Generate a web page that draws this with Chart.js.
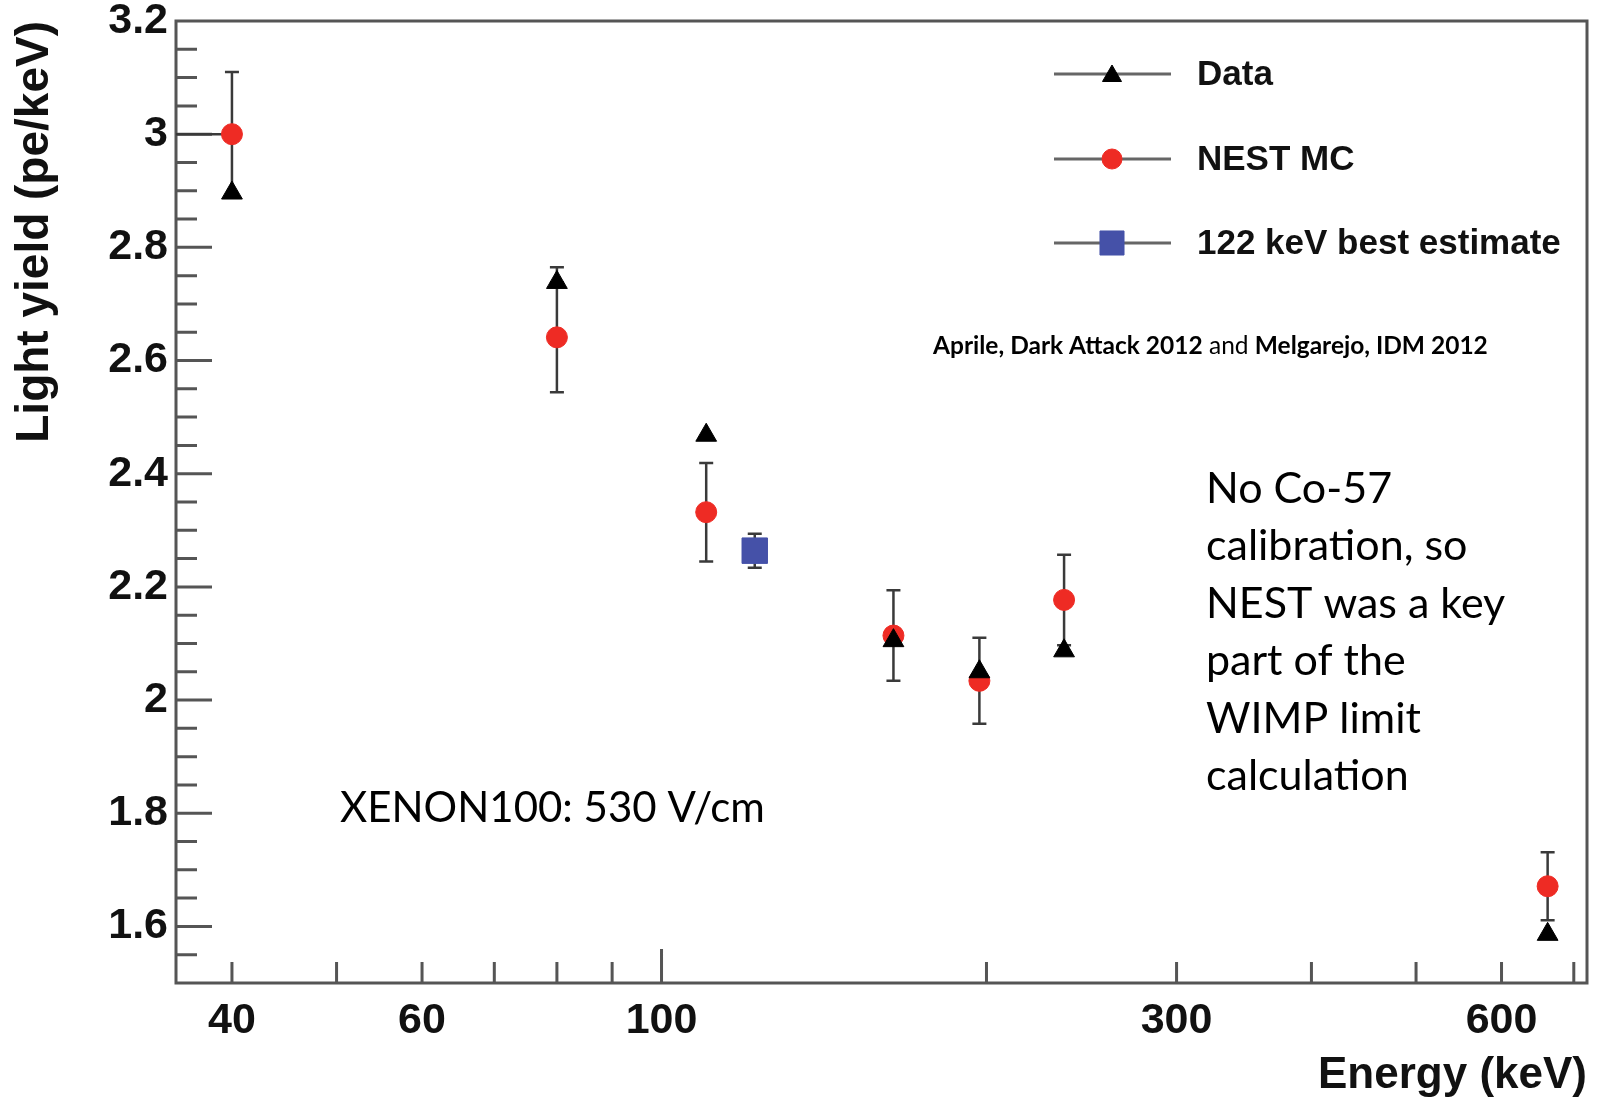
<!DOCTYPE html>
<html><head><meta charset="utf-8">
<script src="https://cdn.jsdelivr.net/npm/chart.js@4.4.0/dist/chart.umd.min.js"></script>
<style>html,body{margin:0;padding:0;background:#fff;overflow:hidden}</style>
</head><body>
<canvas id="c" width="1597" height="1102"></canvas>
<script>
// ---- data ----
const energies     = [40, 80, 110, 164, 197, 236, 662];
const dataYield    = [2.896, 2.738, 2.468, 2.105, 2.05, 2.087, 1.586];
const dataErrUp    = [0, 0.027, 0, 0, 0, 0, 0];
const dataErrDown  = [0, 0, 0, 0, 0, 0, 0];
const nestYield    = [3.00, 2.641, 2.332, 2.114, 2.034, 2.177, 1.671];
const nestErrUp    = [0.11, 0.097, 0.087, 0.08, 0.076, 0.08, 0.06];
const nestErrDown  = [0.11, 0.097, 0.087, 0.08, 0.076, 0.08, 0.06];
const nestXErrLow  = [8, 0, 0, 0, 0, 0, 0];
const bestEnergy   = [122];
const bestYield    = [2.264];
const bestErrUp    = [0.03];
const bestErrDown  = [0.03];
const xTickValues = [40, 50, 60, 70, 80, 90, 100, 200, 300, 400, 500, 600, 700];
const xTickLabels = ['40', '60', '100', '300', '600'];
const yTickLabels = ['1.6', '1.8', '2', '2.2', '2.4', '2.6', '2.8', '3', '3.2'];
const legendLabels = ['Data', 'NEST MC', '122 keV best estimate'];
const xTitle = 'Energy (keV)';
const yTitle = 'Light yield (pe/keV)';
const refText = [['Aprile, Dark Attack 2012', 'bold'], [' and ', 'normal'], ['Melgarejo, IDM 2012', 'bold']];
const noteLines = ['No Co-57', 'calibration, so', 'NEST was a key', 'part of the', 'WIMP limit', 'calculation'];
const setupText = 'XENON100: 530 V/cm';

// ---- styles ----
const RED = '#ee2b24', BLUE = '#4551a8', BLACK = '#000000', AXIS = '#555555', ERR = '#3a3a3a';
const HELV = '"Liberation Sans", Arial, sans-serif';
const CAL = 'Lato, "Open Sans", sans-serif';

const pts = (xs, ys, up, down, xl) => xs.map((x, i) => ({x: x, y: ys[i], up: up[i], down: down[i], xl: xl ? xl[i] : 0}));

const errorBars = {
  id: 'errorBars',
  beforeDatasetsDraw(chart) {
    const ctx = chart.ctx, ys = chart.scales.y, xs = chart.scales.x, a = chart.chartArea;
    ctx.save();
    ctx.beginPath(); ctx.rect(a.left, a.top, a.right - a.left, a.bottom - a.top); ctx.clip();
    ctx.strokeStyle = ERR; ctx.lineWidth = 2.5;
    chart.data.datasets.forEach(ds => {
      ds.data.forEach(p => {
        const px = xs.getPixelForValue(p.x), py = ys.getPixelForValue(p.y);
        ctx.beginPath();
        if (p.up > 0) {
          const y1 = ys.getPixelForValue(p.y + p.up);
          ctx.moveTo(px, py); ctx.lineTo(px, y1);
          ctx.moveTo(px - 7, y1); ctx.lineTo(px + 7, y1);
        }
        if (p.down > 0) {
          const y2 = ys.getPixelForValue(p.y - p.down);
          ctx.moveTo(px, py); ctx.lineTo(px, y2);
          ctx.moveTo(px - 7, y2); ctx.lineTo(px + 7, y2);
        }
        if (p.xl > 0) {
          ctx.moveTo(px, py); ctx.lineTo(xs.getPixelForValue(p.x - p.xl), py);
        }
        ctx.stroke();
      });
    });
    ctx.restore();
  }
};

const frameTicks = {
  id: 'frameTicks',
  beforeDatasetsDraw(chart) {
    const ctx = chart.ctx, a = chart.chartArea, ys = chart.scales.y, xs = chart.scales.x;
    ctx.save();
    ctx.strokeStyle = AXIS; ctx.lineWidth = 3;
    ctx.strokeRect(a.left, a.top, a.right - a.left, a.bottom - a.top);
    ctx.beginPath();
    ys.ticks.forEach(t => {
      const v = Number(t.value.toFixed(2));
      if (v <= ys.min + 1e-6 || v >= ys.max - 1e-6) return;
      const major = yTickLabels.includes(String(v));
      const py = ys.getPixelForValue(t.value);
      ctx.moveTo(a.left, py); ctx.lineTo(a.left + (major ? 36 : 21), py);
    });
    xs.ticks.forEach(t => {
      const px = xs.getPixelForValue(t.value);
      const len = t.value === 100 ? 34 : 21;
      ctx.moveTo(px, a.bottom); ctx.lineTo(px, a.bottom - len);
    });
    ctx.stroke();
    ctx.restore();
  }
};

const legendAndNotes = {
  id: 'legendAndNotes',
  afterDraw(chart) {
    const ctx = chart.ctx;
    ctx.save();
    const rows = [74, 159, 243];
    const styles = [
      {s: 'triangle', r: 11, c: BLACK},
      {s: 'circle', r: 10, c: RED},
      {s: 'rect', r: 17, c: BLUE}
    ];
    rows.forEach((y, i) => {
      ctx.strokeStyle = '#666666'; ctx.lineWidth = 3;
      ctx.beginPath(); ctx.moveTo(1054, y); ctx.lineTo(1171, y); ctx.stroke();
      ctx.fillStyle = styles[i].c; ctx.strokeStyle = styles[i].c; ctx.lineWidth = 1;
      Chart.helpers.drawPoint(ctx, {pointStyle: styles[i].s, radius: styles[i].r, rotation: 0, borderWidth: 1}, 1112, y + (i === 0 ? 2 : 0));
      ctx.fillStyle = '#111111';
      ctx.font = 'bold 35px ' + HELV;
      ctx.textAlign = 'left'; ctx.textBaseline = 'middle';
      ctx.fillText(legendLabels[i], 1197, y + 1);
    });
    let x = 933;
    ctx.fillStyle = '#000000';
    ctx.textBaseline = 'middle';
    refText.forEach(([t, w]) => {
      ctx.font = w + ' 24.5px ' + CAL;
      ctx.fillText(t, x, 346);
      x += ctx.measureText(t).width;
    });
    ctx.font = '43px ' + CAL;
    noteLines.forEach((t, i) => ctx.fillText(t, 1206, 489 + i * 57.5));
    ctx.font = '42px ' + CAL;
    ctx.fillText(setupText, 340, 808);
    ctx.restore();
  }
};

new Chart(document.getElementById('c'), {
  type: 'scatter',
  data: {
    datasets: [
      {label: legendLabels[0], data: pts(energies, dataYield, dataErrUp, dataErrDown), pointStyle: 'triangle', pointRadius: 12,
       backgroundColor: BLACK, borderColor: BLACK, borderWidth: 1},
      {label: legendLabels[1], data: pts(energies, nestYield, nestErrUp, nestErrDown, nestXErrLow), pointStyle: 'circle', pointRadius: 10.5,
       backgroundColor: RED, borderColor: RED, borderWidth: 1},
      {label: legendLabels[2], data: pts(bestEnergy, bestYield, bestErrUp, bestErrDown), pointStyle: 'rect', pointRadius: 18,
       backgroundColor: BLUE, borderColor: BLUE, borderWidth: 1}
    ]
  },
  options: {
    responsive: false, animation: false, devicePixelRatio: 1,
    layout: {autoPadding: false, padding: {top: 21, right: 10, left: 0, bottom: 0}},
    plugins: {legend: {display: false}, tooltip: {enabled: false}},
    scales: {
      x: {
        type: 'logarithmic', min: 35.5, max: 720,
        grid: {display: false, drawTicks: false},
        border: {display: false},
        afterBuildTicks(s) { s.ticks = xTickValues.map(v => ({value: v})); },
        afterFit(s) { s.height = 119; s.paddingLeft = 0; s.paddingRight = 0; },
        ticks: {
          autoSkip: false, maxRotation: 0, minRotation: 0, padding: 12, color: '#111111',
          font: {family: HELV, size: 43, weight: 'bold'},
          callback: v => xTickLabels.includes(String(v)) ? String(v) : ''
        },
        title: {display: true, text: xTitle, align: 'end', color: '#111111',
                font: {family: HELV, size: 44, weight: 'bold'}, padding: {top: 0, bottom: 0}}
      },
      y: {
        min: 1.5, max: 3.2,
        grid: {display: false, drawTicks: false},
        border: {display: false},
        afterFit(s) { s.width = 176; s.paddingTop = 0; s.paddingBottom = 0; },
        ticks: {
          stepSize: 0.05, autoSkip: false, padding: 8, color: '#111111',
          font: {family: HELV, size: 43, weight: 'bold'},
          callback: v => { const t = String(Number(Number(v).toFixed(2))); return yTickLabels.includes(t) ? t : ''; }
        },
        title: {display: true, text: yTitle, align: 'end', color: '#111111',
                font: {family: HELV, size: 46, weight: 'bold'}, padding: {top: 8, bottom: 0}}
      }
    }
  },
  plugins: [frameTicks, errorBars, legendAndNotes]
});
</script>
</body></html>
